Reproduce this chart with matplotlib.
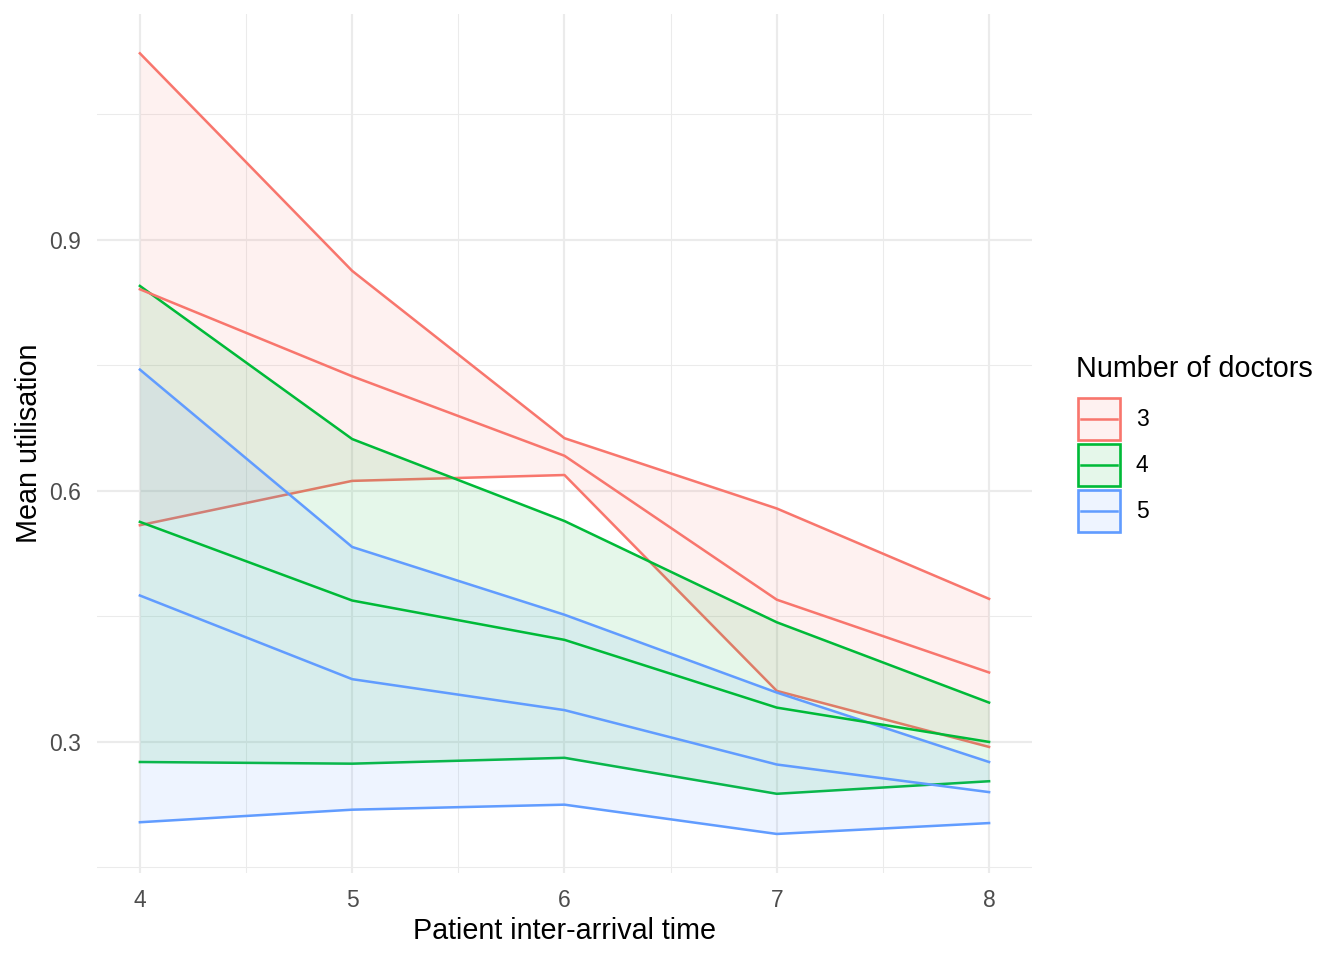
import matplotlib
matplotlib.use("Agg")
import matplotlib.pyplot as plt
from matplotlib.patches import Rectangle
from matplotlib.lines import Line2D

plt.rcParams['font.family'] = ['Liberation Sans', 'DejaVu Sans']

# 数据
arrival = [4, 5, 6, 7, 8]
doctors = ["3", "4", "5"]
colors = ["#F8766D", "#00BA38", "#619CFF"]

mean_3 = [0.841, 0.737, 0.642, 0.470, 0.383]
lower_3 = [0.559, 0.612, 0.619, 0.361, 0.294]
upper_3 = [1.123, 0.863, 0.663, 0.579, 0.471]

mean_4 = [0.563, 0.469, 0.422, 0.341, 0.300]
lower_4 = [0.276, 0.274, 0.281, 0.238, 0.253]
upper_4 = [0.845, 0.662, 0.564, 0.443, 0.347]

mean_5 = [0.475, 0.375, 0.338, 0.273, 0.240]
lower_5 = [0.204, 0.219, 0.225, 0.190, 0.203]
upper_5 = [0.745, 0.533, 0.452, 0.359, 0.276]

means = [mean_3, mean_4, mean_5]
lowers = [lower_3, lower_4, lower_5]
uppers = [upper_3, upper_4, upper_5]

fig = plt.figure(figsize=(7, 5), dpi=192)
ax = fig.add_axes([0.0725, 0.0906, 0.695, 0.8948])

# 置信带
for lo, up, c in zip(lowers, uppers, colors):
    ax.fill_between(arrival, lo, up, color=c, alpha=0.1, linewidth=0, zorder=2)
    ax.plot(arrival, lo, color=c, lw=0.95, zorder=2)
    ax.plot(arrival, up, color=c, lw=0.95, zorder=2)
# 均值线
for m, c in zip(means, colors):
    ax.plot(arrival, m, color=c, lw=0.95, zorder=3)

ax.set_xlim(3.8, 8.2)
ax.set_ylim(0.1433, 1.17)
ax.set_xticks(arrival)
ax.set_yticks([0.3, 0.6, 0.9])
ax.set_yticklabels(["0.3", "0.6", "0.9"])
ax.set_xticks([4.5, 5.5, 6.5, 7.5], minor=True)
ax.set_yticks([0.15, 0.45, 0.75, 1.05], minor=True)
ax.grid(which="major", color="#EBEBEB", lw=0.8, zorder=0)
ax.grid(which="minor", color="#EBEBEB", lw=0.4, zorder=0)
ax.set_axisbelow(True)
for s in ax.spines.values():
    s.set_visible(False)
ax.tick_params(which="both", length=0, labelsize=8.6, labelcolor="#4D4D4D", pad=6)
ax.set_xlabel("Patient inter-arrival time", fontsize=10.8, labelpad=2)
ax.set_ylabel("Mean utilisation", fontsize=10.8, labelpad=2.5)

# 图例
W, H = 1344.0, 960.0
fig.text(1076 / W, 1 - 369 / H, "Number of doctors", fontsize=10.8, va="center", ha="left")
for i, (lab, c) in enumerate(zip(doctors, colors)):
    y0 = 398 + i * 46
    fig.add_artist(Rectangle((1078 / W, 1 - (y0 + 42) / H), 42 / W, 42 / H,
                             facecolor=c, alpha=0.1, edgecolor="none", transform=fig.transFigure))
    fig.add_artist(Rectangle((1078 / W, 1 - (y0 + 42) / H), 42 / W, 42 / H,
                             facecolor="none", edgecolor=c, lw=1.0, transform=fig.transFigure))
    fig.add_artist(Line2D([1081 / W, 1117 / W], [1 - (y0 + 21) / H] * 2, color=c, lw=0.95,
                          transform=fig.transFigure))
    fig.text(1136 / W, 1 - (y0 + 22) / H, lab, fontsize=8.6, va="center", ha="left")

fig.savefig("out.png", dpi=192)
